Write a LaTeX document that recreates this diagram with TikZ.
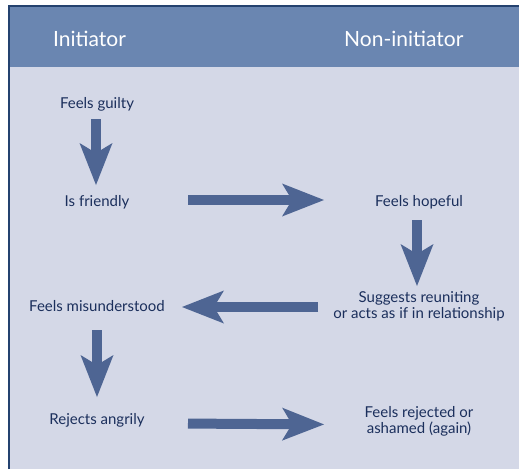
\documentclass[tikz,border=0pt]{standalone}
\usepackage{fontspec}
\setmainfont{Lato}
\usetikzlibrary{arrows.meta}
\definecolor{headblue}{HTML}{6A86B1}
\definecolor{bodyblue}{HTML}{D4D8E7}
\definecolor{arrowblue}{HTML}{4E6593}
\definecolor{textblue}{HTML}{1B2F5C}
\definecolor{edgeblue}{HTML}{24426F}
\tikzset{
  stagetext/.style={text=textblue, align=center, inner sep=0pt, font=\fontsize{15}{16}\selectfont},
  headtext/.style={text=white, inner sep=0pt, anchor=west, font=\fontsize{21}{23}\selectfont},
  bigarrow/.style={draw=arrowblue, line width=10pt,
    -{Stealth[length=42pt,width=33pt,inset=10pt,line width=0pt]}}
}
\begin{document}
\begin{tikzpicture}[x=1pt,y=-1pt]
\useasboundingbox (0,0) rectangle (519,469);
% panel and header band
\fill[white] (0,0) rectangle (519,469);
\fill[bodyblue] (9,6) rectangle (519,469);
\fill[headblue] (9,6) rectangle (519,67);
\draw[edgeblue, line width=2pt] (9,469) -- (9,6) -- (519,6);
\node[headtext] (init) at (53,39) {Initiator};
\node[headtext] (noninit) at (344,39) {Non-initiator};
% left column
\node[stagetext] (guilty) at (97,104) {Feels guilty};
\node[stagetext] (friendly) at (97,202) {Is friendly};
\node[stagetext] (misund) at (97,306) {Feels misunderstood};
\node[stagetext] (angrily) at (97,420) {Rejects angrily};
% right column
\node[stagetext] (hopeful) at (419,202) {Feels hopeful};
\node[stagetext] (suggests) at (419,306) {Suggests reuniting\\or acts as if in relationship};
\node[stagetext] (rejected) at (419,421) {Feels rejected or\\ashamed (again)};
% arrows
\draw[bigarrow, shorten <=15pt, shorten >=17pt] ([xshift=-1pt]guilty.center) -- ([xshift=-1pt]friendly.center);
\draw[bigarrow, shorten <=91pt, shorten >=95pt] ([yshift=2pt]friendly.center) -- ([yshift=2pt]hopeful.center);
\draw[bigarrow, shorten <=18pt, shorten >=20pt] ([xshift=-2pt]hopeful.center) -- ([xshift=-2pt]suggests.center);
\draw[bigarrow, shorten <=101pt, shorten >=85pt] ([yshift=-1pt]suggests.center) -- ([yshift=-1pt]misund.center);
\draw[bigarrow, shorten <=24pt, shorten >=23pt] (misund.center) -- (angrily.center);
\draw[bigarrow, shorten <=91pt, shorten >=95pt] ([yshift=-3pt]angrily.center) -- ([yshift=-4pt]rejected.center);
\end{tikzpicture}
\end{document}
